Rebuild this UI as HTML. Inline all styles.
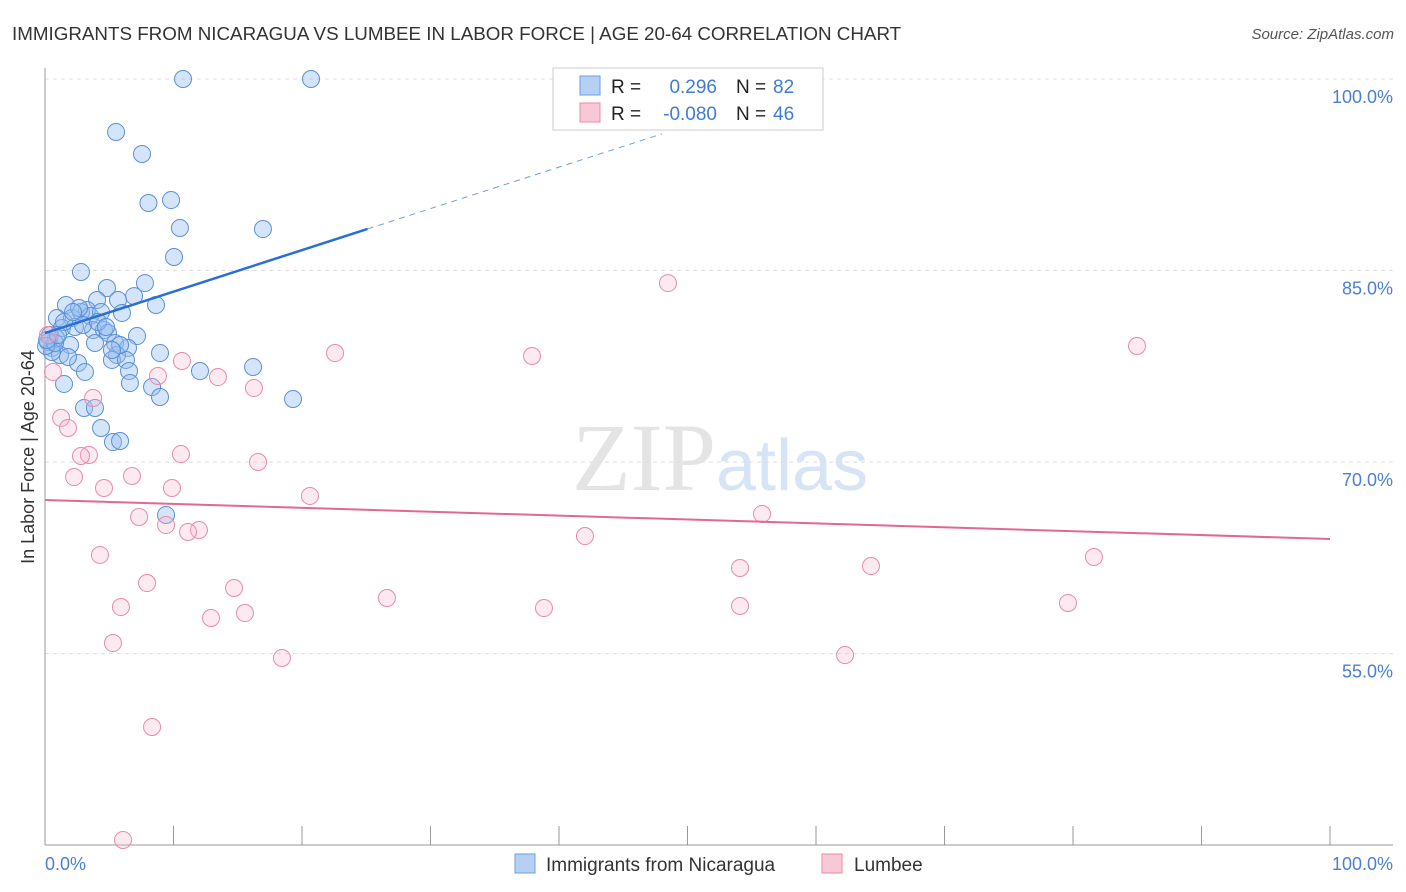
<!DOCTYPE html>
<html><head><meta charset="utf-8"><style>
body{margin:0;background:#fff;font-family:"Liberation Sans",sans-serif;}
#wrap{position:relative;width:1406px;height:892px;overflow:hidden;}
</style></head><body>
<div id="wrap">
<svg id="svg" width="1406" height="892" xmlns="http://www.w3.org/2000/svg">
<text x="12" y="40" font-size="18.8" fill="#333">IMMIGRANTS FROM NICARAGUA VS LUMBEE IN LABOR FORCE | AGE 20-64 CORRELATION CHART</text>
<text x="1394" y="39" font-size="15" font-style="italic" fill="#555" text-anchor="end">Source: ZipAtlas.com</text>
<text x="716" y="490" font-size="96" fill="#e4e4e4" text-anchor="end" font-family="Liberation Serif,serif">ZIP</text>
<text x="716" y="490" font-size="72" fill="#d6e4f5">atlas</text>
<g id="grid"></g>
<g id="axes"></g>
<g id="pts"></g>
<g id="trend"></g>
<text transform="translate(34,457) rotate(-90)" font-size="18" fill="#333" text-anchor="middle">In Labor Force | Age 20-64</text>
<text x="45" y="870" font-size="18" fill="#4a7fd4">0.0%</text>
<text x="1393" y="870" font-size="18" fill="#4a7fd4" text-anchor="end">100.0%</text>
<g>
<rect x="553" y="68" width="270" height="62" fill="#fff" stroke="#ccc"/>
<rect x="580" y="76" width="20" height="19" fill="#b6d0f4" stroke="#6e9ede"/>
<rect x="580" y="103" width="20" height="19" fill="#f8c8d6" stroke="#e88aa8"/>
<text x="611" y="93" font-size="19" fill="#222">R = <tspan x="717" text-anchor="end" fill="#3f7bd6">0.296</tspan><tspan x="736" fill="#222">N = </tspan><tspan x="773" fill="#3f7bd6">82</tspan></text>
<text x="611" y="120" font-size="19" fill="#222">R = <tspan x="717" text-anchor="end" fill="#3f7bd6">-0.080</tspan><tspan x="736" fill="#222">N = </tspan><tspan x="773" fill="#3f7bd6">46</tspan></text>
</g>
<g>
<rect x="515" y="854" width="20" height="19" fill="#b6d0f4" stroke="#6e9ede"/>
<text x="546" y="871" font-size="19" fill="#333">Immigrants from Nicaragua</text>
<rect x="822" y="854" width="20" height="19" fill="#f8c8d6" stroke="#e88aa8"/>
<text x="854" y="871" font-size="19" fill="#333">Lumbee</text>
</g>
</svg>
</div>
<script>
const yTicks=[100,85,70,55];
const yTickLabels=["100.0%","85.0%","70.0%","55.0%"];
const xTicks=[0,10,20,30,40,50,60,70,80,90,100];
const blueX=[10.74,20.7,5.53,7.55,8.05,9.81,10.5,16.96,10.04,2.8,7.78,4.82,6.93,4.05,1.63,5.68,8.64,3.27,0.93,2.1,2.8,3.5,4.36,5.99,1.32,2.33,3.74,4.59,4.9,7.16,0.39,0.86,1.95,3.89,5.45,6.46,8.95,16.19,0.54,1.17,2.57,1.79,5.6,5.21,6.3,6.54,12.06,1.48,6.61,8.33,8.95,19.3,3.04,3.89,4.36,5.29,5.84,9.42,0.23,0.54,0.08,0.78,1.48,2.96,4.12,2.65,4.75,2.18,0.16,1.01,3.11,5.84,5.21];
const blueY=[100,100,95.85,94.13,90.29,90.52,88.33,88.25,86.06,84.89,84.02,83.63,83.0,82.69,82.3,82.69,82.3,81.91,81.28,81.28,81.75,81.44,81.75,81.68,80.5,80.58,80.34,80.34,80.11,79.87,79.95,79.72,79.17,79.33,79.33,78.94,78.54,77.45,78.94,78.39,77.76,78.23,78.39,78.0,78.0,77.13,77.13,76.12,76.19,75.88,75.1,74.94,74.24,74.24,72.67,71.57,71.65,65.86,79.4,78.62,79.09,79.33,80.97,80.74,80.97,82.07,80.58,81.75,79.56,79.95,77.06,79.17,78.78];
const pinkX=[48.48,84.98,22.57,37.9,10.66,0.62,13.46,8.79,16.26,3.74,1.25,1.79,10.58,3.42,2.8,16.58,2.26,6.77,20.62,9.88,4.59,55.8,7.32,9.42,11.98,11.13,42.02,4.28,81.63,54.09,64.28,7.94,14.71,26.61,5.91,38.83,54.09,15.56,12.92,79.61,5.29,18.44,62.26,8.33,6.07,0.23];
const pinkY=[84.02,79.09,78.54,78.31,77.92,77.06,76.66,76.74,75.8,75.02,73.46,72.67,70.63,70.56,70.48,70.01,68.83,68.91,67.35,67.97,67.97,65.94,65.7,65.07,64.68,64.53,64.21,62.73,62.57,61.71,61.86,60.53,60.14,59.36,58.65,58.57,58.73,58.18,57.79,58.97,55.83,54.66,54.89,49.26,40.41,79.95];
const blueTrend=[80.1,0.325];
const pinkTrend=[67.03,-0.0305];
const NS="http://www.w3.org/2000/svg";
const X0=45,X1=1330,YTOP=79,PXPER=12.77;
function sx(v){return X0+(X1-X0)*v/100;}
function sy(v){return YTOP+(100-v)*PXPER;}
function mk(tag,attrs,parent){const e=document.createElementNS(NS,tag);for(const k in attrs)e.setAttribute(k,attrs[k]);parent.appendChild(e);return e;}
const grid=document.getElementById('grid'),axes=document.getElementById('axes'),pts=document.getElementById('pts'),trend=document.getElementById('trend');
yTicks.forEach((t,i)=>{
 const l=mk('line',{x1:45,x2:1393,y1:sy(t),y2:sy(t),stroke:'#ddd','stroke-dasharray':'4,4'},grid);
 
 
 const tx=mk('text',{x:1393,y:sy(t)+24,'font-size':18,fill:'#4a7fd4','text-anchor':'end'},grid);
 tx.textContent=yTickLabels[i];
 
 
});
let a=mk('line',{x1:45,x2:45,y1:68,y2:845,stroke:'#999'},axes);


a=mk('line',{x1:45,x2:1393,y1:845,y2:845,stroke:'#999'},axes);


xTicks.forEach(t=>{
 const l=mk('line',{x1:sx(t),x2:sx(t),y1:826,y2:845,stroke:'#999'},axes);
 
 
});
blueX.forEach((v,i)=>{
 const c=mk('circle',{cx:sx(v),cy:sy(blueY[i]),r:8.5,fill:'rgba(150,190,240,0.4)',stroke:'#5b8fd6','stroke-width':1},pts);
 
 
});
pinkX.forEach((v,i)=>{
 const c=mk('circle',{cx:sx(v),cy:sy(pinkY[i]),r:8.5,fill:'rgba(248,185,205,0.3)',stroke:'#e88aa8','stroke-width':1},pts);
 
 
});
function ty(tr,x){return tr[0]+tr[1]*x;}
let t1=mk('line',{x1:sx(0),y1:sy(ty(blueTrend,0)),x2:sx(25.1),y2:sy(ty(blueTrend,25.1)),stroke:'#2a6fd6','stroke-width':2.5},trend);


let t2=mk('line',{x1:sx(25.1),y1:sy(ty(blueTrend,25.1)),x2:sx(48),y2:sy(ty(blueTrend,48)),stroke:'#6e9ede','stroke-width':1,'stroke-dasharray':'6,5'},trend);


let t3=mk('line',{x1:sx(0),y1:sy(ty(pinkTrend,0)),x2:sx(100),y2:sy(ty(pinkTrend,100)),stroke:'#e2688f','stroke-width':2},trend);


</script>
</body></html>
